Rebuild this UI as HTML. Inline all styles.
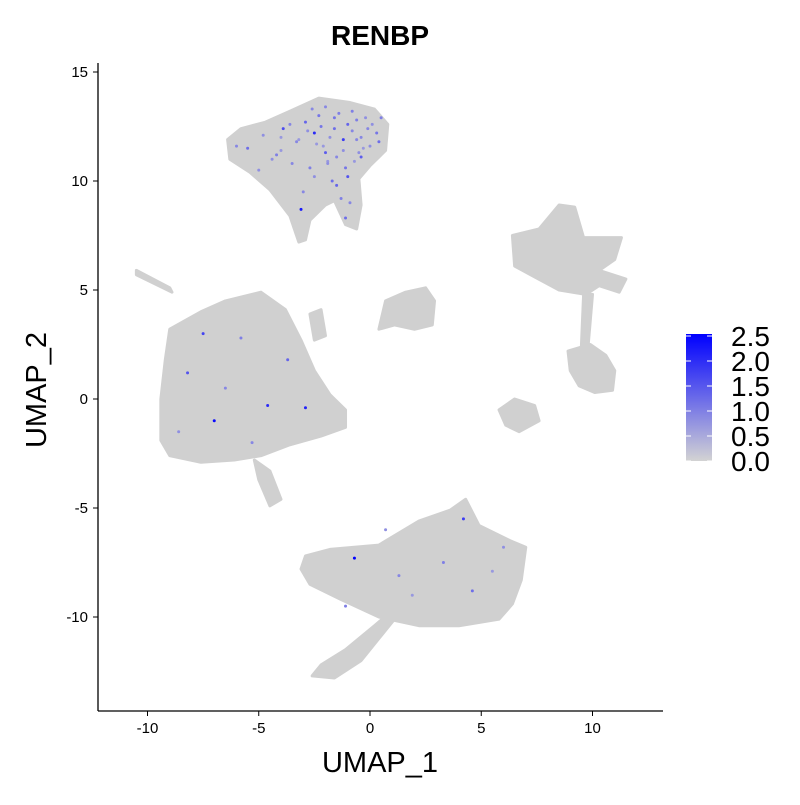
<!DOCTYPE html>
<html><head><meta charset="utf-8"><style>
body{margin:0;background:#fff;font-family:"Liberation Sans",sans-serif}
</style></head><body>
<svg id="chart" width="800" height="800" xmlns="http://www.w3.org/2000/svg" font-family="Liberation Sans, sans-serif">
<defs>
<linearGradient id="cg" x1="0" y1="1" x2="0" y2="0"><stop offset="0" stop-color="#d3d3d3"/><stop offset="1" stop-color="#0000ff"/></linearGradient>
</defs>
<text x="380" y="45" text-anchor="middle" font-size="28" font-weight="bold">RENBP</text>
<g id="clusters"></g>
<g id="points"></g>
<g id="axes"></g>
<text x="380" y="772" text-anchor="middle" font-size="29">UMAP_1</text>
<text transform="translate(46,390) rotate(-90)" text-anchor="middle" font-size="29">UMAP_2</text>
<g>
<rect x="686" y="334" width="26" height="127" fill="url(#cg)"/>
<g id="legend"></g>
</g>
</svg>
<script>
const xTicks=[-10,-5,0,5,10];
const yTicks=[-10,-5,0,5,10,15];
const legendTicks=[0,0.5,1,1.5,2,2.5];
const clusterTop=[[-6.4,11.9],[-5.8,12.4],[-4.7,12.7],[-3.6,13.2],[-2.3,13.8],[-0.9,13.6],[0.2,13.3],[0.8,12.6],[0.7,11.4],[0,10.7],[-0.5,10.1],[-0.4,8.9],[-0.6,7.8],[-1.1,8.0],[-1.6,9.1],[-2.0,8.9],[-2.7,8.2],[-2.9,7.3],[-3.2,7.2],[-3.6,8.4],[-4.5,9.6],[-5.4,10.4],[-6.3,11.0]];
const clusterLeft=[[-9.0,3.2],[-7.6,4.0],[-6.5,4.5],[-4.9,4.9],[-3.8,4.1],[-3.1,2.7],[-2.5,1.3],[-1.8,0.2],[-1.1,-0.5],[-1.1,-1.3],[-2.2,-1.7],[-3.6,-2.1],[-4.9,-2.6],[-6.1,-2.8],[-7.6,-2.9],[-9.0,-2.6],[-9.4,-1.9],[-9.4,0],[-9.2,1.8]];
const clusterLeftTail=[[-5.2,-2.8],[-4.5,-3.3],[-4.0,-4.6],[-4.5,-4.9],[-5.0,-3.7]];
const clusterBottom=[[-2.9,-7.2],[-1.8,-6.9],[0.4,-6.7],[2.2,-5.6],[3.6,-5.1],[4.3,-4.6],[4.9,-5.8],[6.3,-6.5],[7.0,-6.8],[6.8,-8.3],[6.4,-9.4],[5.8,-10.1],[4.0,-10.4],[2.2,-10.4],[0.4,-10.0],[-1.3,-9.2],[-2.7,-8.5],[-3.1,-7.8]];
const clusterBottomTail=[[-2.2,-12.2],[-1.1,-11.5],[0.2,-10.4],[0.9,-9.8],[1.1,-10.1],[-0.4,-12.0],[-1.6,-12.8],[-2.6,-12.7]];
const clusterRightTop=[[6.4,7.5],[7.6,7.8],[8.5,8.9],[9.2,8.8],[9.6,7.4],[11.3,7.4],[11.0,6.4],[10.3,5.9],[11.5,5.5],[11.2,4.9],[10.3,5.2],[9.7,4.8],[8.5,5.0],[7.4,5.6],[6.5,6.1]];
const clusterMid=[[0.7,4.5],[1.6,4.9],[2.5,5.1],[2.9,4.5],[2.8,3.4],[2.0,3.2],[1.1,3.4],[0.4,3.2]];
const clusterRightMid=[[8.9,2.2],[9.9,2.5],[10.6,2.0],[11.0,1.3],[10.9,0.4],[10.1,0.3],[9.4,0.6],[9.0,1.3]];
const clusterRightSmall=[[5.8,-0.5],[6.5,0],[7.4,-0.3],[7.6,-1.0],[6.7,-1.5],[6.1,-1.2]];
const clusterPiece=[[-2.7,3.9],[-2.2,4.1],[-2.0,2.9],[-2.5,2.7]];
const clusterStreak=[[-10.5,5.9],[-9.0,5.1],[-8.9,4.9],[-10.5,5.7]];
const clusterStem=[[9.6,4.8],[10.0,4.8],[9.8,2.4],[9.5,2.4]];
const ptX=[-5.5,-4.8,-4.2,-3.9,-3.3,-2.9,-2.5,-2.1,-1.6,-1.2,-0.8,-0.4,0.1,0.4,-1.9,-2.7,-3.5,-4.4,-1.0,-0.3,-2.3,-3.0,-1.5,-3.1,-1.1,-6.0,-5.0,-0.6,-2.0,-4.0,-8.2,-7.0,-6.5,-5.8,-4.6,-3.7,-8.6,-7.5,-2.9,-5.3,1.3,4.2,6.0,3.3,1.9,-0.7,4.6,0.7,-1.1,5.5,
 -2.6,-2.2,-1.8,-1.4,-1.0,-0.6,-0.2,0.3,-2.4,-2.0,-1.6,-1.2,-0.8,-0.4,0.0,0.5,-1.9,-1.5,-1.1,-0.7,-2.8,-3.2,-3.6,-4.0,-1.3,-0.9,-2.5,-1.7,-0.5,-0.1];
const ptY=[11.5,12.1,11.2,12.4,11.8,12.7,12.2,11.6,12.9,11.9,12.3,11.1,12.6,11.8,10.9,10.6,10.8,11.0,10.2,11.5,13.0,9.5,9.8,8.7,8.3,11.6,10.5,12.8,11.3,12.0,1.2,-1.0,0.5,2.8,-0.3,1.8,-1.5,3.0,-0.4,-2.0,-8.1,-5.5,-6.8,-7.5,-9.0,-7.3,-8.8,-6.0,-9.5,-7.9,
 13.3,12.5,12.0,13.1,12.6,11.9,12.9,12.2,11.7,13.4,12.4,11.4,13.2,12.0,11.6,12.9,10.8,11.1,10.6,10.9,12.3,11.9,12.6,11.4,9.2,9.0,10.2,10.0,11.3,12.4];
const ptVal=[1.2,0.8,1.0,1.6,0.9,1.3,2.0,0.7,1.1,1.8,0.9,1.4,0.8,1.2,0.7,1.0,0.9,0.8,1.5,0.7,1.1,0.9,1.3,2.2,1.2,0.9,0.8,1.0,1.4,0.7,1.5,2.4,0.9,1.0,2.0,1.3,0.8,1.7,2.1,0.9,0.9,1.8,0.8,1.0,0.7,2.5,1.2,0.8,1.0,0.7,
 0.9,1.1,0.8,1.0,1.3,0.9,0.8,1.1,0.7,0.9,1.2,0.8,1.0,0.9,0.8,1.0,0.8,0.9,1.1,0.7,0.8,0.7,0.9,0.7,1.0,0.9,0.8,1.2,0.8,0.9];
const NS="http://www.w3.org/2000/svg";
const X=v=>370+v*22.25, Y=v=>399-v*21.8;
function mk(t,a,p){const e=document.createElementNS(NS,t);for(const k in a)e.setAttribute(k,a[k]);p.appendChild(e);return e;}
const cg=document.getElementById('clusters');
const polys=[clusterTop,clusterLeft,clusterLeftTail,clusterBottom,clusterBottomTail,clusterRightTop,clusterMid,clusterRightMid,clusterRightSmall,clusterPiece,clusterStreak,clusterStem];
polys.forEach((pl,i)=>{
 const e=mk('polygon',{points:pl.map(p=>X(p[0])+','+Y(p[1])).join(' '),fill:'#d0d0d0',stroke:'#d0d0d0','stroke-width':3,'stroke-linejoin':'round'},cg);
 
 
});
function col(v){const t=Math.min(v/2.5,1);const r=Math.round(211*(1-t)),g=r,b=Math.round(211+(255-211)*t);return `rgb(${r},${g},${b})`;}
const pg=document.getElementById('points');
ptX.forEach((x,i)=>{
 const c=mk('circle',{cx:X(x),cy:Y(ptY[i]),r:1.5,fill:col(ptVal[i])},pg);
 
 
});
const ax=document.getElementById('axes');
mk('line',{x1:98,y1:711,x2:663,y2:711,stroke:'#000','stroke-width':1.3},ax);
mk('line',{x1:98,y1:63,x2:98,y2:711,stroke:'#000','stroke-width':1.3},ax);
xTicks.forEach(t=>{mk('line',{x1:X(t),x2:X(t),y1:711,y2:716,stroke:'#000'},ax);
 const l=mk('text',{x:X(t),y:733,'text-anchor':'middle','font-size':15},ax);l.textContent=t;
 
 });
yTicks.forEach(t=>{mk('line',{x1:93,x2:98,y1:Y(t),y2:Y(t),stroke:'#000'},ax);
 const l=mk('text',{x:88,y:Y(t)+5,'text-anchor':'end','font-size':15},ax);l.textContent=t;
 
 });
const lg=document.getElementById('legend');
legendTicks.forEach(t=>{const y=461-t/2.5*125;
 mk('line',{x1:686,x2:691,y1:y,y2:y,stroke:'#fff'},lg);mk('line',{x1:707,x2:712,y1:y,y2:y,stroke:'#fff'},lg);
 const l=mk('text',{x:731,y:y+10,'font-size':28},lg);l.textContent=t.toFixed(1);
 
 });
</script>
</body></html>
